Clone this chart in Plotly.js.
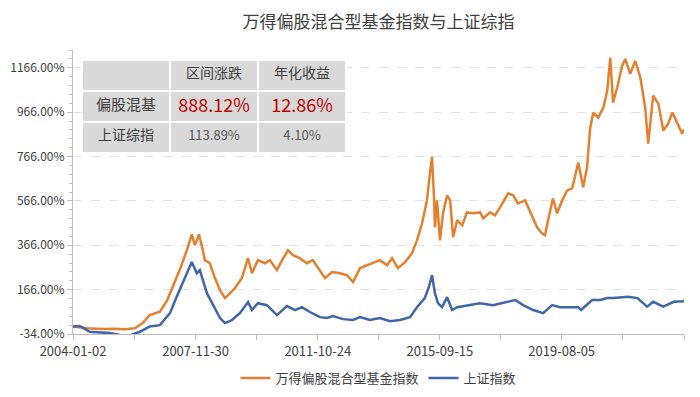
<!DOCTYPE html>
<html>
<head>
<meta charset="utf-8">
<script src="https://cdn.plot.ly/plotly-3.0.1.min.js"></script>
<style>html,body{margin:0;padding:0;background:#fff;}#chart{width:700px;height:397px;}</style>
</head>
<body>
<div id="chart"></div>
<script>
// ---- data ----
var fundDates = ["2004-01-02","2004-03-20","2004-06-11","2004-09-13","2005-01-08","2005-05-03","2005-08-27","2005-12-22","2006-03-24","2006-06-15","2006-10-10","2007-01-04","2007-03-10","2007-05-29","2007-08-20","2007-10-17","2007-11-21","2008-01-09","2008-02-23","2008-03-17","2008-05-14","2008-07-12","2008-09-10","2008-11-07","2009-01-05","2009-03-03","2009-05-22","2009-08-02","2009-09-17","2009-11-25","2010-02-16","2010-04-14","2010-07-05","2010-09-03","2010-11-11","2011-01-09","2011-03-28","2011-06-19","2011-08-27","2011-10-25","2012-01-16","2012-04-07","2012-07-09","2012-09-28","2012-12-08","2013-02-27","2013-05-18","2013-07-27","2013-10-18","2014-01-09","2014-03-07","2014-05-15","2014-08-06","2014-10-25","2014-12-23","2015-02-20","2015-04-18","2015-05-22","2015-06-16","2015-07-09","2015-07-20","2015-08-13","2015-09-17","2015-10-22","2015-12-09","2016-01-13","2016-02-17","2016-04-04","2016-06-02","2016-07-27","2016-10-07","2016-12-26","2017-02-03","2017-04-22","2017-06-19","2017-08-17","2017-11-19","2018-01-16","2018-03-14","2018-06-05","2018-08-03","2018-10-22","2018-12-19","2019-01-23","2019-02-27","2019-04-25","2019-06-12","2019-08-10","2019-10-08","2019-12-05","2020-02-14","2020-04-11","2020-05-26","2020-07-02","2020-08-07","2020-10-04","2020-12-02","2021-01-17","2021-02-21","2021-03-25","2021-05-12","2021-07-10","2021-08-14","2021-10-11","2021-12-09","2022-02-07","2022-04-04","2022-05-09","2022-07-06","2022-09-04","2022-11-01","2022-12-27","2023-02-14","2023-04-12","2023-06-09","2023-06-30"];
var fundValues = [0,-5,-8,-10,-12,-10,-13,-8,15,51,66,119,179,254,343,415,366,415,343,299,285,218,164,128,150,173,218,308,240,299,285,299,254,299,343,321,308,285,299,267,218,245,240,231,200,263,276,285,299,276,308,263,290,330,388,465,568,689,765,582,447,568,388,510,591,568,402,479,456,514,510,514,487,514,501,537,600,591,555,568,514,447,420,411,479,577,510,568,613,622,739,627,716,896,964,941,986,1063,1211,1009,1076,1175,1206,1139,1197,1121,986,824,1040,1004,883,914,964,914,869,888];

var sseDates = ["2004-01-02","2004-03-20","2004-07-15","2004-11-10","2005-03-06","2005-07-01","2005-10-24","2006-02-19","2006-06-15","2006-10-10","2007-02-05","2007-04-24","2007-07-05","2007-09-02","2007-10-17","2007-12-15","2008-01-19","2008-04-10","2008-06-19","2008-09-10","2008-11-07","2009-01-28","2009-04-29","2009-08-02","2009-09-17","2009-11-25","2010-03-10","2010-07-05","2010-10-30","2011-02-02","2011-04-21","2011-07-24","2011-11-18","2012-02-09","2012-04-18","2012-08-13","2012-12-08","2013-02-27","2013-06-23","2013-10-18","2014-02-13","2014-06-08","2014-10-03","2014-12-23","2015-03-24","2015-05-11","2015-06-16","2015-07-20","2015-08-24","2015-10-11","2015-12-09","2016-02-06","2016-04-04","2016-07-27","2016-12-26","2017-05-26","2017-10-14","2018-02-10","2018-05-12","2018-09-07","2019-01-02","2019-04-15","2019-07-17","2019-11-12","2020-02-14","2020-03-18","2020-05-26","2020-07-24","2020-10-26","2021-01-17","2021-03-25","2021-07-10","2021-09-18","2022-01-04","2022-03-11","2022-04-26","2022-07-06","2022-11-01","2023-03-03","2023-05-22","2023-06-30"];
var sseValues = [0,2,-24,-28,-30,-38,-41,-24,0,6,60,134,195,246,291,240,254,150,96,38,15,29,60,110,74,105,96,51,92,74,87,65,42,38,47,33,29,42,29,38,24,29,42,87,128,179,231,150,105,87,132,74,87,96,105,96,110,119,96,74,60,96,87,87,87,74,96,119,119,128,128,132,134,128,105,89,111,89,111,111,114];

var seriesNames = ["万得偏股混合型基金指数", "上证指数"];
var xTickDates = ["2004-01-02","2005-12-16","2007-11-30","2009-11-11","2011-10-24","2013-10-04","2015-09-15","2017-08-25","2019-08-05","2021-07-17","2023-06-30"];
var xTickLabels = ["2004-01-02","","2007-11-30","","2011-10-24","","2015-09-15","","2019-08-05","",""];
var yTickVals = [-34,166,366,566,766,966,1166];

var tableHeader = ["", "区间涨跌", "年化收益"];
var tableRowNames = ["偏股混基", "上证综指"];
var tableChange = ["888.12%", "113.89%"];
var tableAnnual = ["12.86%", "4.10%"];

var FONT = '"Noto Sans CJK SC", "Noto Sans", sans-serif';
var ORANGE = '#E3812F';
var BLUE = '#3F66A8';

var traces = [
  {x: fundDates, y: fundValues, type: 'scatter', mode: 'lines', name: seriesNames[0],
   line: {color: ORANGE, width: 2.5}},
  {x: sseDates, y: sseValues, type: 'scatter', mode: 'lines', name: seriesNames[1],
   line: {color: BLUE, width: 2.5}},
  {type: 'table', domain: {x: [0.0147, 0.4484], y: [0.637, 0.965]},
   columnwidth: [1, 1, 1],
   header: {values: tableHeader, height: 31, align: 'center',
            fill: {color: '#D9D9D9'}, line: {color: '#FFFFFF', width: 2},
            font: {family: FONT, size: 14, color: '#404040'}},
   cells: {values: [tableRowNames, tableChange, tableAnnual], height: 31, align: 'center',
           fill: {color: '#D9D9D9'}, line: {color: '#FFFFFF', width: 2},
           font: {family: FONT,
                  size: [[15, 14], [18, 13], [18, 13]],
                  color: [['#404040', '#404040'], ['#C00000', '#595959'], ['#C00000', '#595959']]}},
   showlegend: false}
];

var layout = {
  width: 700, height: 397,
  margin: {l: 73, r: 16, t: 50, b: 63},
  paper_bgcolor: '#FFFFFF', plot_bgcolor: '#FFFFFF',
  font: {family: FONT, color: '#404040', size: 12},
  title: {text: '万得偏股混合型基金指数与上证综指', x: 0.5, xref: 'paper', xanchor: 'center',
          y: 0.945, yref: 'container', yanchor: 'middle',
          font: {family: FONT, size: 17, color: '#404040'}},
  xaxis: {type: 'date', range: ['2004-01-02', '2023-06-30'],
          tickmode: 'array', tickvals: xTickDates, ticktext: xTickLabels,
          ticks: 'outside', ticklen: 5, tickcolor: '#BFBFBF', tickwidth: 1,
          showline: true, linecolor: '#BFBFBF', linewidth: 1,
          showgrid: false, zeroline: false,
          tickfont: {family: FONT, size: 13, color: '#404040'}},
  yaxis: {range: [-34, 1246], tickmode: 'array', tickvals: yTickVals,
          ticktext: yTickVals.map(function(v){return v.toFixed(2) + '%';}),
          ticks: 'outside', ticklen: 5, tickcolor: '#BFBFBF',
          minor: {tickmode: 'linear', tick0: -34, dtick: 40, ticks: 'outside', ticklen: 3, tickcolor: '#BFBFBF', showgrid: false},
          showline: true, linecolor: '#BFBFBF', linewidth: 1,
          showgrid: true, gridcolor: '#E3E3E3', griddash: 'dash', gridwidth: 1,
          zeroline: false,
          tickfont: {family: FONT, size: 12, color: '#404040'}},
  legend: {orientation: 'h', x: 0.5, xanchor: 'center', xref: 'paper',
           y: 0.048, yanchor: 'middle', yref: 'container',
           font: {family: FONT, size: 13, color: '#404040'}, itemwidth: 30},
  showlegend: true
};

Plotly.newPlot('chart', traces, layout, {displayModeBar: false, staticPlot: true});
</script>
</body>
</html>
